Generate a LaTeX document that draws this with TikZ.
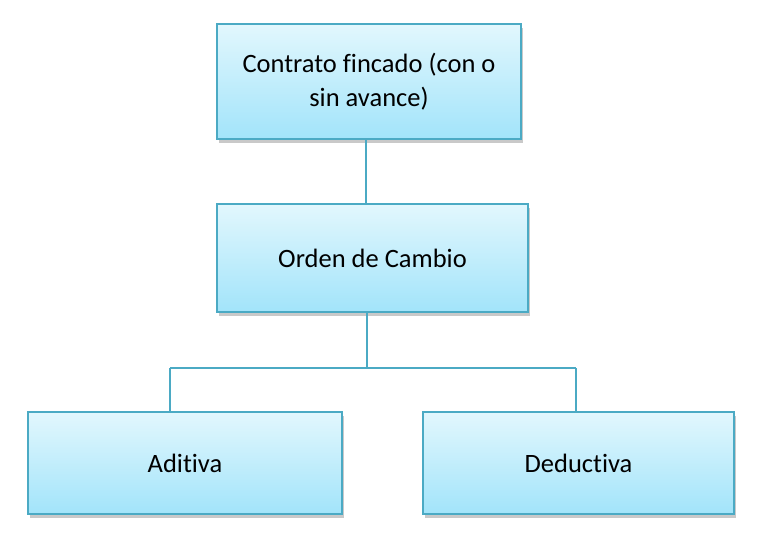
\documentclass[tikz,border=0pt]{standalone}
\usepackage{fontspec}
\setmainfont{Carlito}[Ligatures=NoCommon]
\usetikzlibrary{shadows,calc}
\definecolor{bordc}{RGB}{75,170,196}
\definecolor{topc}{RGB}{226,247,253}
\definecolor{botc}{RGB}{162,228,250}
\tikzset{
  boxnode/.style={draw=bordc, line width=2.2pt, top color=topc, bottom color=botc,
    align=center, inner sep=0pt, font=\fontsize{26.5}{34}\selectfont,
    drop shadow={shadow xshift=1.5pt, shadow yshift=-4pt, opacity=0.3, fill=black!70}},
  conn/.style={draw=bordc, line width=2.2pt}
}
\begin{document}
\begin{tikzpicture}[x=1pt,y=-1pt]
\useasboundingbox (0,0) rectangle (762,542);
\node[boxnode, minimum width=304pt, minimum height=115pt] (top) at (369,81.5) {Contrato fincado (con o\\sin avance)};
\node[boxnode, minimum width=311pt, minimum height=108pt] (mid) at (372.5,258) {Orden de Cambio};
\node[boxnode, minimum width=314pt, minimum height=102pt] (left) at (185,463) {Aditiva};
\node[boxnode, minimum width=311pt, minimum height=102pt] (right) at (578.5,463) {Deductiva};
\coordinate (j) at (367,368);
\draw[conn] (top.south -| 366,0) -- (mid.north -| 366,0);
\draw[conn] (mid.south -| j) -- (j);
\draw[conn] (170,368) -- (576,368);
\draw[conn] (170,368) -- (left.north -| 170,0);
\draw[conn] (576,368) -- (right.north -| 576,0);
\end{tikzpicture}
\end{document}
